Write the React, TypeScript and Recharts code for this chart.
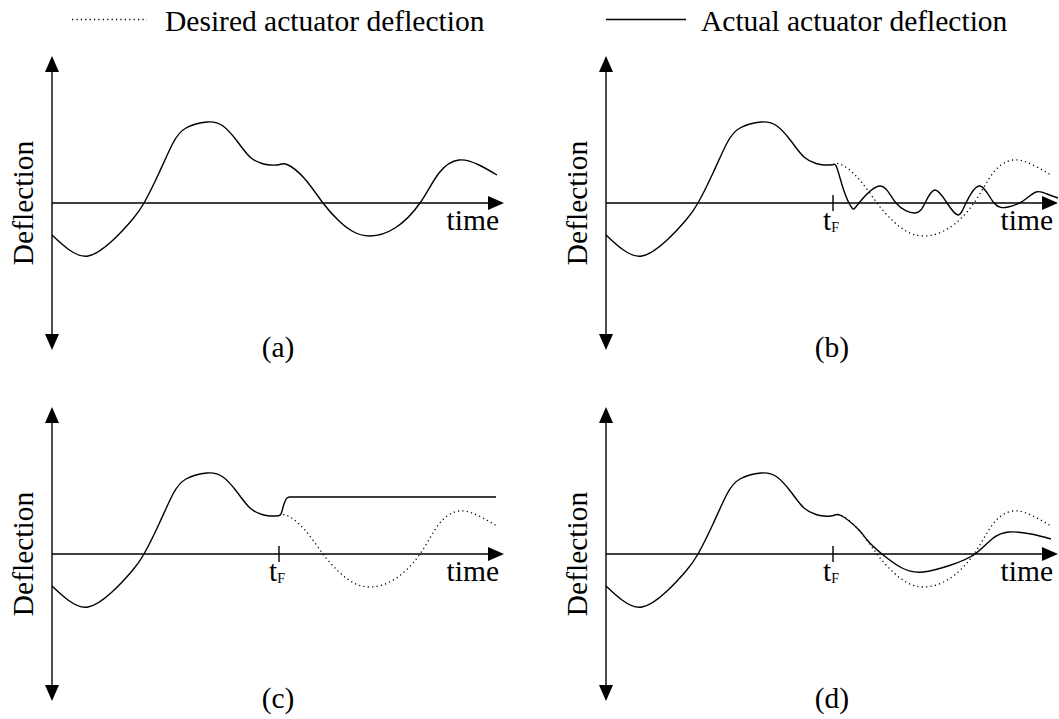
import { Line, LineChart, ReferenceDot, ReferenceLine, XAxis, YAxis } from 'recharts';

const FONT = "'Liberation Serif', Tinos, 'DejaVu Serif', serif";

// desired actuator deflection (time and deflection in arbitrary sketch units)
const desiredTime = [0, 16, 36, 60, 80, 92, 107, 121, 134, 155, 171, 185, 198, 210, 218, 227, 235, 252, 271, 286, 300, 318, 343, 368, 387, 407, 427, 445];
const desiredValue = [-32, -46, -53, -38, -17, 0, 30, 60, 75, 81, 77, 62, 46, 39.5, 38, 38.3, 38.5, 25, 0, -17, -28, -33, -25, 0, 30, 43, 38, 28];

const failureTime = 227;

// (b) oscillating actuator after the failure
const oscTime = [231, 238, 246, 253, 274, 290, 309, 319, 329, 341, 352, 360, 374, 388, 402, 417, 430, 441, 452];
const oscValue = [35, 12, -5, 0, 17, 0, -10, 0, 13, 0, -12, 0, 17, 0, -4, 2, 11, 9, 5];

// (c) actuator stuck after the failure
const stuckTime = [229, 232, 235, 238, 444];
const stuckValue = [40, 50, 56, 57, 57];

// (d) actuator with reduced effectiveness
const dampedStart = 252;
const dampedTime = [262, 276, 296, 317, 345, 369, 386, 403, 425, 445];
const dampedValue = [13, 0, -14, -18, -11, 0, 15, 22, 20, 15];

const panelLabels = ['(a)', '(b)', '(c)', '(d)'];
const legendLabels = ['Desired actuator deflection', 'Actual actuator deflection'];
const timeLabel = 'time';
const deflectionLabel = 'Deflection';

const X_MAX = 452;
const Y_MAX = 147;

type Pt = { t: number; v: number };
const zip = (ts: number[], vs: number[]): Pt[] => ts.map((t, i) => ({ t, v: vs[i] }));

const desired = zip(desiredTime, desiredValue);
const upTo = (t: number) => desired.filter((p) => p.t <= t);
const failurePoint = desired.filter((p) => p.t === failureTime);
const desiredAfter = desired.filter((p) => p.t >= failureTime);

const oscillating = [...failurePoint, ...zip(oscTime, oscValue)];
const stuck = [...failurePoint, ...zip(stuckTime, stuckValue)];
const damped = [...upTo(dampedStart), ...zip(dampedTime, dampedValue)];

const textStyle = { fontFamily: FONT, fontSize: 29.5 };

const VerticalAxis = (p: any) => {
  const top = Math.min(p.y1, p.y2);
  const bottom = Math.max(p.y1, p.y2);
  const x = p.x1;
  const mid = (top + bottom) / 2;
  return (
    <g>
      <line x1={x} y1={top + 10} x2={x} y2={bottom - 10} stroke="#000" strokeWidth={1.4} />
      <polygon points={`${x},${top} ${x - 7},${top + 16} ${x + 7},${top + 16}`} fill="#000" />
      <polygon points={`${x},${bottom} ${x - 7},${bottom - 16} ${x + 7},${bottom - 16}`} fill="#000" />
      <text x={x - 19} y={mid} transform={`rotate(-90 ${x - 19} ${mid})`} textAnchor="middle" style={textStyle} fill="#000">
        {deflectionLabel}
      </text>
    </g>
  );
};

const HorizontalAxis = (p: any) => {
  const { x1, x2, y1 } = p;
  return (
    <g>
      <line x1={x1} y1={y1} x2={x2 - 10} y2={y1} stroke="#000" strokeWidth={1.4} />
      <polygon points={`${x2},${y1} ${x2 - 16},${y1 - 7} ${x2 - 16},${y1 + 7}`} fill="#000" />
      <text x={x2 - 5} y={y1 + 27} textAnchor="end" style={textStyle} fill="#000">
        {timeLabel}
      </text>
    </g>
  );
};

const FailureTick = (p: any) => {
  const mid = (p.y1 + p.y2) / 2;
  return (
    <g>
      <line x1={p.x1} y1={p.y1} x2={p.x2} y2={p.y2} stroke="#000" strokeWidth={1.4} />
      <text x={p.x1 - 10} y={mid + 27} style={textStyle} fill="#000">
        t<tspan style={{ fontSize: 14 }} dy={2}>F</tspan>
      </text>
    </g>
  );
};

const solid = { dataKey: 'v', stroke: '#000', strokeWidth: 1.4, dot: false, activeDot: false, isAnimationActive: false } as const;

interface PanelProps {
  left: number;
  top: number;
  label: string;
  actual: Pt[];
  actualAfter?: Pt[];
  afterType?: 'natural' | 'monotone';
  target?: Pt[];
}

function Panel({ left, top, label, actual, actualAfter, afterType = 'natural', target }: PanelProps) {
  return (
    <div style={{ position: 'absolute', left, top }}>
      <LineChart width={505} height={368} margin={{ top: 56, right: 1, bottom: 18, left: 52 }}>
        <XAxis type="number" dataKey="t" domain={[0, X_MAX]} hide />
        <YAxis type="number" domain={[-Y_MAX, Y_MAX]} hide />
        <ReferenceLine segment={[{ x: 0, y: -Y_MAX }, { x: 0, y: Y_MAX }]} ifOverflow="visible" shape={VerticalAxis} />
        <ReferenceLine segment={[{ x: 0, y: 0 }, { x: X_MAX, y: 0 }]} ifOverflow="visible" shape={HorizontalAxis} />
        {target && (
          <ReferenceLine segment={[{ x: failureTime, y: -8 }, { x: failureTime, y: 8 }]} ifOverflow="visible" shape={FailureTick} />
        )}
        {target && (
          <Line
            data={target}
            dataKey="v"
            type="natural"
            stroke="#000"
            strokeWidth={1.3}
            strokeDasharray="1.2 3.2"
            dot={false}
            activeDot={false}
            isAnimationActive={false}
          />
        )}
        <Line {...solid} data={actual} type="natural" />
        {actualAfter && <Line {...solid} data={actualAfter} type={afterType} />}
        <ReferenceDot
          x={X_MAX / 2}
          y={-Y_MAX}
          ifOverflow="visible"
          shape={(p: any) => (
            <text x={p.cx} y={p.cy + 7} textAnchor="middle" style={textStyle} fill="#000">
              {label}
            </text>
          )}
        />
      </LineChart>
    </div>
  );
}

export default function App() {
  return (
    <div style={{ position: 'fixed', left: 0, top: 0, width: 1059, height: 719, background: '#fff', overflow: 'hidden' }}>
      <svg width={1059} height={45} style={{ position: 'absolute', left: 0, top: 0 }}>
        <line x1={72} y1={19.5} x2={147} y2={19.5} stroke="#000" strokeWidth={1.3} strokeDasharray="1.2 3.2" />
        <text x={165} y={31} style={textStyle} fill="#000">{legendLabels[0]}</text>
        <line x1={606} y1={19.5} x2={686} y2={19.5} stroke="#000" strokeWidth={1.4} />
        <text x={701} y={31} style={textStyle} fill="#000">{legendLabels[1]}</text>
      </svg>
      <Panel left={0} top={0} label={panelLabels[0]} actual={desired} />
      <Panel left={554} top={0} label={panelLabels[1]} actual={upTo(failureTime)} actualAfter={oscillating} target={desiredAfter} />
      <Panel left={0} top={351} label={panelLabels[2]} actual={upTo(failureTime)} actualAfter={stuck} afterType="monotone" target={desiredAfter} />
      <Panel left={554} top={351} label={panelLabels[3]} actual={damped} target={desiredAfter} />
    </div>
  );
}
